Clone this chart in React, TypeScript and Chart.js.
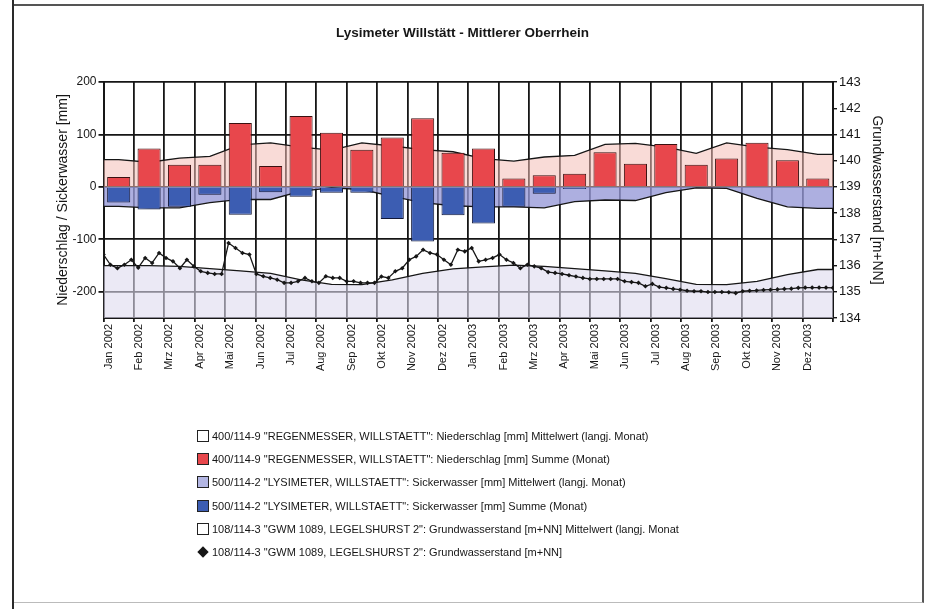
import { useEffect, useRef } from 'react';
import { Chart, registerables } from 'chart.js';

Chart.register(...registerables);

const FONT = "'Liberation Sans', Arial, Helvetica, sans-serif";

const TITLE = 'Lysimeter Willstätt - Mittlerer Oberrhein';
const LEFT_AXIS_TITLE = 'Niederschlag / Sickerwasser [mm]';
const RIGHT_AXIS_TITLE = 'Grundwasserstand [m+NN]';

const MONTH_LABELS = [
  'Jan 2002', 'Feb 2002', 'Mrz 2002', 'Apr 2002', 'Mai 2002', 'Jun 2002',
  'Jul 2002', 'Aug 2002', 'Sep 2002', 'Okt 2002', 'Nov 2002', 'Dez 2002',
  'Jan 2003', 'Feb 2003', 'Mrz 2003', 'Apr 2003', 'Mai 2003', 'Jun 2003',
  'Jul 2003', 'Aug 2003', 'Sep 2003', 'Okt 2003', 'Nov 2003', 'Dez 2003',
];

const MM_TICKS = [-200, -100, 0, 100, 200];

// Niederschlag [mm], Summe je Monat
const PRECIP_SUM = [19, 73, 42, 42, 122, 40, 135, 103, 71, 94, 131, 65, 73, 16, 22, 25, 66, 44, 82, 42, 54, 84, 51, 16];
// Niederschlag [mm], langjähriges Monatsmittel
const PRECIP_MEAN = [52, 47, 55, 58, 80, 84, 76, 70, 84, 78, 71, 67, 54, 49, 57, 60, 81, 83, 76, 64, 84, 76, 71, 62];
// Sickerwasser [mm], Summe je Monat (negativ aufgetragen)
const SEEP_SUM = [-30, -43, -38, -15, -53, -10, -19, -11, -11, -61, -104, -54, -70, -38, -13, -4, 0, 0, 0, 0, 0, 0, 0, 0];
// Sickerwasser [mm], langjähriges Monatsmittel
const SEEP_MEAN = [-37, -40, -40, -30, -24, -24, -8, -2, -5, -18, -30, -36, -38, -38, -40, -28, -25, -26, -11, -2, -3, -22, -38, -41];
// Grundwasserstand [m+NN], langjähriges Monatsmittel
const GW_MEAN = [136.0, 136.0, 135.97, 135.88, 135.8, 135.7, 135.45, 135.28, 135.27, 135.45, 135.7, 135.87,
  135.95, 136.02, 135.97, 135.88, 135.8, 135.7, 135.5, 135.28, 135.27, 135.4, 135.65, 135.85];
// Grundwasserstand [m+NN], wöchentliche Messwerte Jan 2002 - Dez 2003
const GW_LEVEL = [
  136.42, 136.03, 135.9, 136.03, 136.22, 135.92, 136.29, 136.1, 136.48, 136.29, 136.16, 135.9, 136.22, 135.97,
  135.78, 135.72, 135.68, 135.68, 136.86, 136.67, 136.48, 136.42, 135.68, 135.59, 135.53, 135.46, 135.34,
  135.34, 135.4, 135.53, 135.4, 135.34, 135.59, 135.53, 135.53, 135.4, 135.4, 135.34, 135.34, 135.34, 135.58,
  135.53, 135.78, 135.9, 136.22, 136.35, 136.6, 136.48, 136.42, 136.22, 136.03, 136.6, 136.54, 136.67,
  136.16, 136.22, 136.29, 136.42, 136.22, 136.1, 135.9, 136.03, 135.97, 135.9, 135.75, 135.72, 135.68,
  135.63, 135.58, 135.53, 135.49, 135.49, 135.49, 135.49, 135.49, 135.4, 135.37, 135.34, 135.21,
  135.3, 135.18, 135.15, 135.11, 135.08, 135.04, 135.02, 135.02, 134.99, 134.99, 134.99, 134.98, 134.95,
  135.02, 135.04, 135.05, 135.07, 135.08, 135.09, 135.11, 135.12, 135.15, 135.16, 135.16, 135.16, 135.16, 135.15,
];

const SERIES_LABELS = {
  precipMean: '400/114-9 "REGENMESSER, WILLSTAETT": Niederschlag [mm] Mittelwert (langj. Monat)',
  precipSum: '400/114-9 "REGENMESSER, WILLSTAETT": Niederschlag [mm] Summe (Monat)',
  seepMean: '500/114-2 "LYSIMETER, WILLSTAETT": Sickerwasser [mm] Mittelwert (langj. Monat)',
  seepSum: '500/114-2 "LYSIMETER, WILLSTAETT": Sickerwasser [mm] Summe (Monat)',
  gwMean: '108/114-3 "GWM 1089, LEGELSHURST 2": Grundwasserstand [m+NN] Mittelwert (langj. Monat',
  gwLevel: '108/114-3 "GWM 1089, LEGELSHURST 2": Grundwasserstand [m+NN]',
};

const COLORS = {
  red: '#e8474c',
  redEdge: '#3a1010',
  blue: '#3c5db2',
  blueEdge: '#121838',
  pink: 'rgba(244, 190, 182, 0.55)',
  lavender: 'rgba(150, 153, 215, 0.78)',
  gwFill: 'rgba(222, 218, 238, 0.6)',
  ink: '#161616',
};

const LEGEND = [
  { text: SERIES_LABELS.precipMean, swatch: '#ffffff', marker: 'box' },
  { text: SERIES_LABELS.precipSum, swatch: COLORS.red, marker: 'box' },
  { text: SERIES_LABELS.seepMean, swatch: '#b3b6e3', marker: 'box' },
  { text: SERIES_LABELS.seepSum, swatch: COLORS.blue, marker: 'box' },
  { text: SERIES_LABELS.gwMean, swatch: '#ffffff', marker: 'box' },
  { text: SERIES_LABELS.gwLevel, swatch: COLORS.ink, marker: 'diamond' },
];

const PERIOD = MONTH_LABELS.length;

// Monthly sums sit in the middle of each month.
const monthly = (values: number[]) => values.map((y, i) => ({ x: i + 0.5, y }));
// Long-term monthly means run through mid-month and are held out to both ends of the period.
const monthlyMean = (values: number[]) => [
  { x: 0, y: values[0] },
  ...monthly(values),
  { x: PERIOD, y: values[values.length - 1] },
];
// Weekly readings spread evenly over the whole period.
const weekly = (values: number[]) =>
  values.map((y, i) => ({ x: (i * PERIOD) / (values.length - 1), y }));

export default function App() {
  const canvasRef = useRef<HTMLCanvasElement>(null);

  useEffect(() => {
    const canvas = canvasRef.current;
    if (!canvas) return;
    Chart.defaults.color = COLORS.ink;
    Chart.defaults.font.family = FONT;

    const chart = new Chart(canvas, {
      type: 'bar',
      data: {
        datasets: [
          {
            type: 'line',
            label: SERIES_LABELS.gwLevel,
            data: weekly(GW_LEVEL),
            yAxisID: 'y2',
            borderColor: COLORS.ink,
            borderWidth: 1.3,
            pointStyle: 'rectRot',
            pointRadius: 2.3,
            pointBackgroundColor: COLORS.ink,
            pointBorderWidth: 0,
            tension: 0,
            order: 0,
          },
          {
            type: 'bar',
            label: SERIES_LABELS.precipSum,
            data: monthly(PRECIP_SUM),
            yAxisID: 'y',
            backgroundColor: COLORS.red,
            borderColor: COLORS.redEdge,
            borderWidth: 1,
            grouped: false,
            categoryPercentage: 1,
            barPercentage: 0.76,
            order: 1,
          },
          {
            type: 'bar',
            label: SERIES_LABELS.seepSum,
            data: monthly(SEEP_SUM),
            yAxisID: 'y',
            backgroundColor: COLORS.blue,
            borderColor: COLORS.blueEdge,
            borderWidth: 1,
            grouped: false,
            categoryPercentage: 1,
            barPercentage: 0.76,
            order: 2,
          },
          {
            type: 'line',
            label: SERIES_LABELS.gwMean,
            data: monthlyMean(GW_MEAN),
            yAxisID: 'y2',
            borderColor: COLORS.ink,
            borderWidth: 1.3,
            pointRadius: 0,
            fill: 'start',
            backgroundColor: COLORS.gwFill,
            tension: 0,
            order: 3,
          },
          {
            type: 'line',
            label: SERIES_LABELS.precipMean,
            data: monthlyMean(PRECIP_MEAN),
            yAxisID: 'y',
            borderColor: COLORS.ink,
            borderWidth: 1.3,
            pointRadius: 0,
            fill: 'origin',
            backgroundColor: COLORS.pink,
            tension: 0,
            order: 4,
          },
          {
            type: 'line',
            label: SERIES_LABELS.seepMean,
            data: monthlyMean(SEEP_MEAN),
            yAxisID: 'y',
            borderColor: COLORS.ink,
            borderWidth: 1.3,
            pointRadius: 0,
            fill: 'origin',
            backgroundColor: COLORS.lavender,
            tension: 0,
            order: 5,
          },
        ],
      },
      options: {
        animation: false,
        responsive: false,
        devicePixelRatio: 1,
        layout: { padding: { top: 82, left: 51, right: 36, bottom: 0 } },
        plugins: {
          legend: { display: false },
          title: { display: false },
          tooltip: { enabled: false },
        },
        scales: {
          x: {
            type: 'linear',
            min: 0,
            max: PERIOD,
            offset: false,
            afterBuildTicks: (scale: any) => {
              scale.ticks = [...MONTH_LABELS.map((_, i) => ({ value: i })), { value: PERIOD }];
            },
            afterFit: (scale: any) => {
              scale.height = 112;
            },
            ticks: {
              autoSkip: false,
              minRotation: 90,
              maxRotation: 90,
              labelOffset: 5,
              padding: 2,
              color: COLORS.ink,
              font: { family: FONT, size: 11 },
              callback: (value: any) => MONTH_LABELS[value as number] ?? '',
            },
            grid: { color: COLORS.ink, lineWidth: 1.8, tickLength: 4, offset: false },
            border: { color: COLORS.ink, width: 2 },
          },
          y: {
            type: 'linear',
            position: 'left',
            min: -250,
            max: 200,
            afterBuildTicks: (scale: any) => {
              scale.ticks = MM_TICKS.map((value) => ({ value }));
            },
            afterFit: (scale: any) => {
              scale.width = 52.5;
            },
            ticks: { padding: 2, color: COLORS.ink, font: { family: FONT, size: 12 } },
            grid: { color: COLORS.ink, lineWidth: 1.8, tickLength: 5 },
            border: { color: COLORS.ink, width: 2 },
            title: {
              display: true,
              text: LEFT_AXIS_TITLE,
              color: COLORS.ink,
              font: { family: FONT, size: 14 },
              padding: { top: 4, bottom: 4 },
            },
          },
          y2: {
            type: 'linear',
            position: 'right',
            min: 134,
            max: 143,
            afterFit: (scale: any) => {
              scale.width = 56;
            },
            ticks: { stepSize: 1, padding: 2, color: COLORS.ink, font: { family: FONT, size: 13 } },
            grid: { drawOnChartArea: false, color: COLORS.ink, lineWidth: 1.4, tickLength: 4 },
            border: { color: COLORS.ink, width: 2 },
            title: {
              display: true,
              text: RIGHT_AXIS_TITLE,
              color: COLORS.ink,
              font: { family: FONT, size: 14 },
              padding: { top: 4, bottom: 4 },
            },
          },
        },
      } as any,
    });

    return () => chart.destroy();
  }, []);

  return (
    <div
      style={{
        position: 'fixed',
        left: 0,
        top: 0,
        width: 925,
        height: 609,
        background: '#fff',
        overflow: 'hidden',
        fontFamily: FONT,
        color: COLORS.ink,
      }}
    >
      <div style={{ position: 'absolute', left: 12, top: 4, width: 908, height: 596, borderLeft: '2px solid #2a2a2a', borderTop: '2px solid #555', borderRight: '2px solid #555', borderBottom: '1px solid #bbb' }} />
      <div style={{ position: 'absolute', left: 12, top: 0, width: 2, height: 609, background: '#2a2a2a' }} />
      <canvas ref={canvasRef} width={925} height={430} style={{ position: 'absolute', left: 0, top: 0, width: 925, height: 430 }} />
      <div
        style={{
          position: 'absolute',
          left: 0,
          top: 24,
          width: 925,
          textAlign: 'center',
          fontSize: 13.5,
          fontWeight: 'bold',
          lineHeight: '18px',
        }}
      >
        {TITLE}
      </div>
      <div style={{ position: 'absolute', left: 197, top: 424 }}>
        {LEGEND.map((item) => (
          <div key={item.text} style={{ display: 'flex', alignItems: 'center', height: 23.3, fontSize: 11, whiteSpace: 'nowrap' }}>
            {item.marker === 'box' ? (
              <span style={{ display: 'inline-block', width: 10, height: 10, background: item.swatch, border: '1px solid #222', marginRight: 3 }} />
            ) : (
              <span style={{ display: 'inline-block', width: 12, height: 12, marginRight: 3, position: 'relative' }}>
                <span style={{ position: 'absolute', left: 2, top: 2, width: 8, height: 8, background: item.swatch, transform: 'rotate(45deg)' }} />
              </span>
            )}
            <span>{item.text}</span>
          </div>
        ))}
      </div>
    </div>
  );
}
